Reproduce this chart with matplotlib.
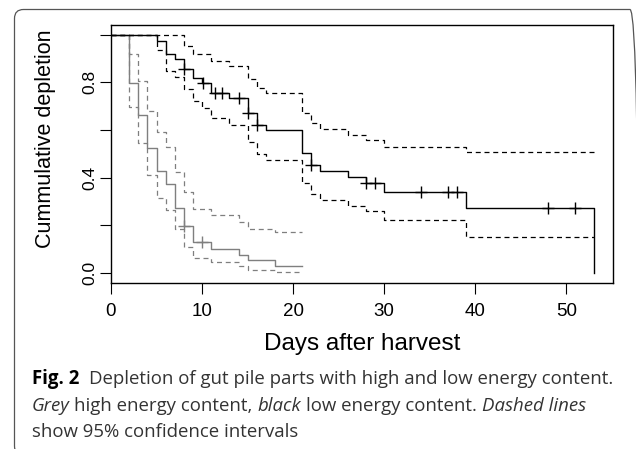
import numpy as np
import matplotlib
matplotlib.use("Agg")
import matplotlib.pyplot as plt
from matplotlib.patches import FancyBboxPatch
from matplotlib.transforms import IdentityTransform

# low energy content (black): step times and values
low_t = [0, 5, 6, 7, 8, 9, 10, 11, 13, 15, 16, 17, 21, 22, 23, 26, 28, 30, 39, 53]
low_s = [1.0, 0.975, 0.917, 0.896, 0.854, 0.819, 0.799, 0.757, 0.736, 0.673,
         0.622, 0.600, 0.503, 0.455, 0.430, 0.405, 0.379, 0.340, 0.274, 0.0]
low_up_t = [0, 8, 9, 11, 13, 15, 16, 17, 21, 22, 23, 26, 28, 30, 39, 53]
low_up = [1.0, 0.951, 0.917, 0.889, 0.868, 0.8125, 0.778, 0.757, 0.673, 0.628,
          0.604, 0.579, 0.558, 0.528, 0.507, 0.507]
low_lo_t = [0, 5, 6, 7, 8, 9, 10, 11, 13, 15, 16, 17, 21, 22, 23, 26, 28, 30, 39, 53]
low_lo = [1.0, 0.937, 0.847, 0.82, 0.77, 0.72, 0.694, 0.65, 0.622, 0.548,
          0.50, 0.475, 0.378, 0.330, 0.305, 0.282, 0.26, 0.222, 0.15, 0.15]
low_cens = [8, 10.1, 11.4, 12.2, 14.1, 15, 16, 22, 28, 29, 34, 37, 38, 48, 51]

# high energy content (grey)
high_t = [0, 2, 3, 4, 5, 6, 7, 8, 9, 11, 14, 15, 18, 21]
high_s = [1.0, 0.798, 0.662, 0.525, 0.43, 0.372, 0.271, 0.197, 0.132, 0.103,
          0.076, 0.055, 0.028, 0.028]
high_up = [1.0, 0.917, 0.806, 0.68, 0.59, 0.527, 0.424, 0.34, 0.267, 0.245,
           0.215, 0.187, 0.173, 0.173]
high_lo = [1.0, 0.697, 0.544, 0.41, 0.317, 0.264, 0.187, 0.11, 0.065, 0.048,
           0.028, 0.012, 0.005, 0.005]
high_cens = [8, 10]

xticks = [0, 10, 20, 30, 40, 50]
yticks = [0.0, 0.2, 0.4, 0.6, 0.8, 1.0]
ytick_labels = ["0.0", "", "0.4", "", "0.8", ""]

W, H = 636, 449
fig = plt.figure(figsize=(W / 100, H / 100), dpi=100)
ax = fig.add_axes([111 / W, 1 - 282.7 / H, (613 - 111) / W, (282.7 - 25) / H])

grey = "#7f7f7f"
dash = (0, (4, 3))


def at(t, s, c):
    i = np.searchsorted(t, c, side="right") - 1
    return np.asarray(s)[i]


ax.step(high_t, high_up, where="post", color=grey, lw=0.9, ls=dash)
ax.step(high_t, high_lo, where="post", color=grey, lw=0.9, ls=dash)
ax.step(high_t, high_s, where="post", color=grey, lw=1.0)
ax.plot(high_cens, at(high_t, high_s, high_cens), ls="none", marker="+",
        ms=9, mew=1.0, color=grey)

ax.step(low_up_t, low_up, where="post", color="black", lw=0.9, ls=dash)
ax.step(low_lo_t, low_lo, where="post", color="black", lw=0.9, ls=dash)
ax.step(low_t, low_s, where="post", color="black", lw=1.0)
ax.plot(low_cens, at(low_t, low_s, low_cens), ls="none", marker="+",
        ms=9, mew=1.0, color="black")

ax.set_xlim(0, 55.12)
ax.set_ylim(-0.04, 1.04)
ax.set_xticks(xticks)
ax.set_xticklabels([str(v) for v in xticks], fontsize=13.5, family="Liberation Sans")
ax.set_yticks(yticks)
ax.set_yticklabels(ytick_labels, fontsize=12.5, family="Liberation Sans",
                   rotation=90, va="center")
ax.tick_params(axis="x", length=8, width=0.8, pad=6.5)
ax.tick_params(axis="y", length=8, width=0.8, pad=1.5)
for sp in ax.spines.values():
    sp.set_linewidth(1.0)

fig.text(362 / W, 1 - 350 / H, "Days after harvest", fontsize=17.5,
         family="Liberation Sans", ha="center", va="baseline")
fig.text(46 / W, 1 - 139 / H, "Cummulative depletion", fontsize=15.5,
         family="Liberation Sans", rotation=90, ha="center", va="center")

# caption
cap_font = "Open Sans"
cap_color = "#333333"
r = fig.canvas.get_renderer()


def width(txt, size, **kw):
    t = fig.text(0, 0, txt, fontsize=size, family=cap_font, **kw)
    w = t.get_window_extent(r).width
    t.remove()
    return w


line1 = [("Fig. 2", "b"), ("Depletion of gut pile parts with high and low energy content.", "n")]
line2 = [("Grey", "i"), ("high energy content,", "n"), ("black", "i"),
         ("low energy content.", "n"), ("Dashed lines", "i")]
line3 = [("show 95% confidence intervals", "n")]


def kw_for(style):
    if style == "b":
        return dict(fontweight="bold", color="black")
    if style == "i":
        return dict(style="italic", color=cap_color)
    return dict(color=cap_color)


w10 = (width(line1[0][0], 10, **kw_for("b")) + width(line1[1][0], 10)
       + 2 * (width("a a", 10) - width("aa", 10)))
cap_size = 10 * 581 / w10
space = width("a a", cap_size) - width("aa", cap_size)


def put_line(runs, y_px, first_gap=1):
    x = 31.7
    for k, (txt, style) in enumerate(runs):
        t = fig.text(x / W, 1 - y_px / H, txt, fontsize=cap_size, family=cap_font,
                     ha="left", va="baseline", **kw_for(style))
        x += t.get_window_extent(r).width + space * (first_gap if k == 0 else 1)


put_line(line1, 384.3, first_gap=2)
put_line(line2, 410.7)
put_line(line3, 436.7)

box = FancyBboxPatch((14.5, H - 455), 639 - 14.5, 455 - 9.5,
                     boxstyle="round,pad=0,rounding_size=9",
                     transform=IdentityTransform(), fill=False,
                     edgecolor="#555555", lw=0.9)
fig.patches.append(box)

fig.savefig("out.png", dpi=100)
